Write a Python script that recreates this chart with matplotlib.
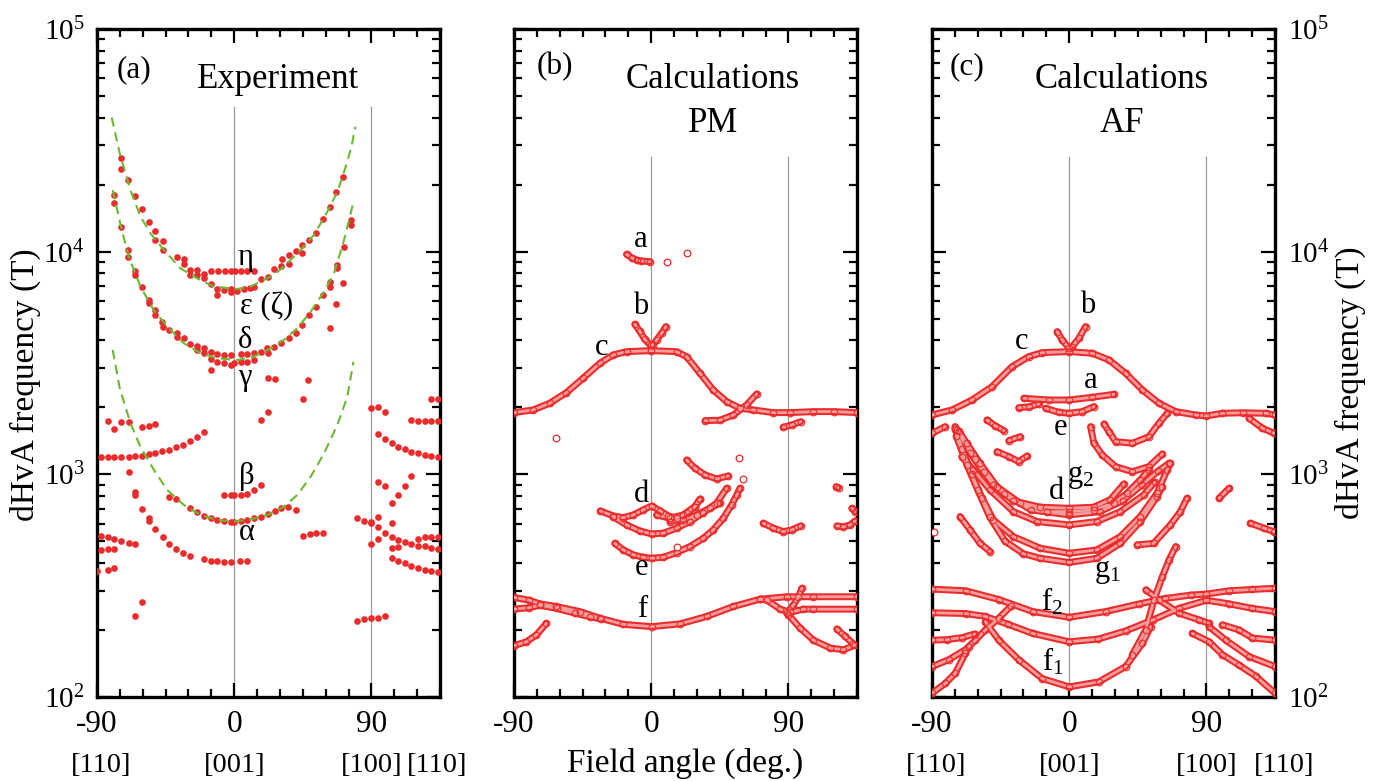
import matplotlib.pyplot as plt
from matplotlib.ticker import LogLocator, NullFormatter

plt.rcParams['font.family'] = ['Liberation Serif', 'DejaVu Serif']
plt.rcParams['mathtext.fontset'] = 'custom'
plt.rcParams['mathtext.rm'] = 'Liberation Serif'
plt.rcParams['mathtext.it'] = 'Liberation Serif:italic'

RED = '#ea2c2c'
PINK = '#f39c9c'
GREEN = '#6db732'
GREY = '#9a9a9a'

# ---- (a) experiment: (angle deg, dHvA frequency T) ----
exp_upper = [
    (-74.2, 26300), (-74.0, 23500), (-69.6, 21000), (-64.8, 17800), (-60.4, 15500),
    (-56.1, 13600), (-51.7, 12400), (-51.7, 11300), (-46.6, 11200), (-46.6, 10200),
    (-37.5, 9430), (-33.1, 9240), (-33.1, 8810), (-28.7, 8280), (-28.7, 7860),
    (-24.3, 8280), (-24.3, 7860), (-19.9, 7940), (-19.9, 7590), (-15.5, 7160),
    (-11.2, 6790), (-11.2, 6390),
    (-14.9, 8190), (-10.5, 8190), (-6.1, 8190), (-1.8, 8190), (0.4, 8190),
    (4.2, 8190), (8.5, 8190), (12.9, 8190),
    (-6.8, 6730), (-2.4, 6780), (-2.4, 6590), (2.0, 6680), (6.4, 6780),
    (10.3, 6890), (12.9, 6970),
    (17.3, 7520), (22.1, 7730), (26.1, 8340), (30.4, 8630), (31.5, 9240),
    (35.9, 9630), (35.9, 8810), (40.3, 10040), (44.7, 10680), (44.7, 9830),
    (49.1, 11290), (53.4, 12090), (58.5, 14030), (62.9, 15930), (67.0, 18610),
    (71.6, 21580),
]
exp_mid = [
    (-79.1, 18000), (-78.6, 16600), (-74.2, 12900), (-69.9, 10200), (-69.6, 9430),
    (-64.8, 8190), (-64.8, 7860), (-60.4, 6970), (-56.1, 6070), (-56.1, 5870),
    (-51.7, 5470), (-51.7, 5200), (-47.3, 4850), (-46.6, 4610), (-42.9, 4450),
    (-37.5, 4330), (-37.5, 4150), (-33.1, 4080), (-28.7, 3850), (-24.7, 3770),
    (-24.3, 3600), (-19.9, 3680), (-19.9, 3500), (-15.5, 3560), (-15.5, 3300),
    (-11.2, 3470), (-11.2, 3210), (-6.8, 3440), (-6.8, 3150), (-2.4, 3440),
    (-2.4, 3100), (-0.2, 3150), (4.2, 3180), (4.2, 3470), (8.5, 3210),
    (8.5, 3470), (12.9, 3500), (12.9, 3260), (17.3, 3560), (21.7, 3680),
    (22.1, 3500), (26.1, 3750), (30.4, 3880), (35.9, 4080), (40.3, 4330),
    (44.7, 4690), (49.1, 5200), (53.4, 5670), (58.5, 6390), (62.9, 7340),
    (62.9, 6970), (67.2, 8720), (67.2, 8420), (72.1, 10530), (76.4, 13900),
    (76.4, 13180),
    (-15.5, 2940), (71.6, 7260), (67.0, 5830), (62.6, 4530), (48.4, 2640),
    (22.1, 2700), (26.5, 2670),
]
exp_low = [
    (45.1, 2180), (17.3, 1760), (22.1, 1900),
    (-83.0, 1730), (-78.6, 1590), (-74.2, 1710), (-69.2, 1710), (-60.4, 1630),
    (-56.1, 1640), (-51.7, 1680),
    (-87.4, 1200), (-83.0, 1200), (-78.6, 1200), (-74.2, 1200), (-69.2, 1200),
    (-64.8, 1210), (-60.4, 1210), (-56.1, 1230), (-51.7, 1250), (-47.3, 1270),
    (-42.9, 1290), (-37.9, 1320), (-33.5, 1350), (-28.7, 1410), (-24.7, 1470),
    (-19.9, 1545),
    (-69.2, 1020), (-64.8, 837), (-64.8, 808), (-60.4, 697), (-56.1, 635),
    (-56.1, 620), (-51.7, 567), (-46.9, 525), (-42.5, 487), (-37.9, 461),
    (-33.5, 445), (-28.7, 430), (-19.9, 416), (-15.5, 410), (-11.2, 407),
    (-6.8, 406), (-2.4, 406), (3.7, 407), (8.5, 410),
    (-42.9, 789), (-37.9, 775), (-28.7, 709), (-24.7, 676), (-19.9, 651),
    (-15.5, 639), (-11.2, 624), (-6.8, 618), (-2.4, 614), (-0.2, 614),
    (4.2, 618), (8.5, 624), (12.9, 635), (17.3, 646), (22.1, 662),
    (26.5, 685), (30.9, 709), (35.5, 716), (40.3, 692),
    (-6.8, 808), (-2.4, 808), (-0.2, 808), (4.2, 808), (8.5, 817),
    (12.9, 851), (17.7, 896),
    (-87.4, 529), (-83.0, 525), (-78.6, 513), (-74.2, 502), (-69.2, 490),
    (-64.8, 485), (-87.4, 458), (-83.0, 461), (-78.6, 462), (-83.0, 372),
    (-78.6, 381), (-90.0, 368), (-64.8, 230), (-60.4, 268),
    (45.1, 529), (49.5, 538), (53.9, 544), (58.3, 544),
]
exp_side = [
    (80.4, 635), (85.2, 620), (90.0, 614), (90.0, 603), (94.4, 646), (94.4, 583),
    (98.8, 547), (103.2, 525), (107.5, 508), (111.9, 495), (116.3, 487),
    (120.7, 479), (125.1, 479), (129.0, 466), (133.4, 461), (90.0, 485),
    (94.4, 511), (103.2, 466), (107.5, 474), (103.2, 423), (107.5, 410),
    (111.9, 399), (116.3, 389), (120.7, 379), (125.1, 372), (129.0, 368),
    (133.4, 366), (120.7, 511), (125.1, 522), (129.0, 525), (133.4, 525),
    (90.0, 1980), (94.4, 2015), (98.8, 1900), (94.4, 1513), (98.8, 1437),
    (103.2, 1379), (107.5, 1332), (111.9, 1296), (116.3, 1265), (120.7, 1244),
    (125.1, 1223), (129.0, 1209), (133.4, 1201),
    (94.4, 928), (98.8, 887), (103.2, 742), (107.5, 808), (111.9, 887),
    (116.3, 987), (103.2, 603),
    (116.3, 1755), (120.7, 1743), (125.1, 1743), (129.0, 1737), (133.4, 1737),
    (129.0, 2180), (133.4, 2180),
    (80.4, 220), (85.2, 224), (90.0, 226), (94.4, 227), (98.8, 230),
]

# dashed guide curves in (a)
fit_eps = [(-80.4, 40100), (-75.1, 27700), (-68.1, 18900), (-61.5, 14400), (-55.0, 12100),
           (-46.2, 10200), (-35.3, 8420), (-24.3, 7590), (-13.4, 6970), (2.0, 6800),
           (10.7, 6970), (26.1, 7860), (34.8, 8870), (43.6, 10200), (52.4, 11900),
           (61.1, 15100), (67.7, 18600), (73.2, 24100), (76.9, 29600), (79.5, 36400)]
fit_delta = [(-79.7, 18900), (-74.2, 12900), (-69.2, 9500), (-61.5, 6970), (-52.8, 5470),
             (-44.0, 4610), (-33.1, 3880), (-22.1, 3500), (-11.2, 3320), (2.0, 3260),
             (12.9, 3380), (23.9, 3680), (32.6, 4010), (41.4, 4530), (50.2, 5380),
             (58.9, 6610), (65.5, 8000), (72.1, 11300), (78.6, 17100)]
fit_alpha = [(-79.7, 3620), (-75.1, 2440), (-68.1, 1700), (-61.5, 1330), (-52.8, 1050),
             (-44.0, 851), (-33.1, 729), (-22.1, 657), (-11.2, 624), (-0.2, 614),
             (10.7, 628), (21.7, 657), (32.6, 716), (41.4, 808), (50.2, 977),
             (58.9, 1240), (67.7, 1670), (74.2, 2230), (78.2, 3200)]

# ---- (b) paramagnetic calculation branches ----
pm_a = [(-16.2, 9730), (-12.9, 9400), (-9.6, 9170), (-6.4, 9080), (-0.9, 9020)]
pm_b_left = [(-10.7, 4720), (-7.4, 4380), (-4.2, 4040), (-0.4, 3790)]
pm_b_right = [(9.6, 4610), (6.8, 4300), (3.5, 4010), (0.9, 3810)]
pm_c = [(-90, 1893), (-77.5, 1946), (-66.6, 2085), (-55.6, 2328), (-44.7, 2701),
        (-33.7, 3153), (-25.0, 3437), (-16.2, 3557), (0, 3594), (16.6, 3557),
        (23.2, 3378), (32.0, 2843), (40.7, 2393), (49.5, 2121), (58.3, 1980),
        (67.0, 1946), (80.2, 1893), (91.1, 1893), (106.4, 1913), (119.6, 1913),
        (135, 1893)]
pm_c2 = [(35.3, 1743), (45.1, 1750), (53.9, 1848), (62.6, 2049), (69.2, 2296)]
pm_c3 = [(86.7, 1627), (92.2, 1667), (98.1, 1725)]
pm_arc = [(23.2, 1160), (28.7, 1065), (35.3, 994), (42.9, 954), (50.6, 984)]
pm_d_upper = [(-33.3, 685), (-25.0, 651), (-18.4, 639), (-11.8, 657), (-5.3, 692),
              (0.2, 721), (5.7, 687), (11.2, 651), (16.6, 635), (23.2, 669),
              (28.7, 717), (32.0, 773)]
pm_d_mid = [(-25.0, 645), (-16.2, 593), (-7.4, 557), (0.2, 540), (7.9, 544),
            (16.6, 573), (25.4, 614), (34.2, 673), (42.9, 742), (49.5, 866)]
pm_d_b1 = [(3.5, 657), (12.3, 635), (21.0, 657), (28.7, 717), (32.0, 773)]
pm_d_b2 = [(12.3, 614), (21.0, 624), (29.8, 657), (38.5, 704), (45.1, 742)]
pm_e = [(-23.9, 490), (-18.4, 458), (-11.8, 435), (-5.3, 424), (0.2, 420),
        (7.9, 424), (16.6, 445), (25.4, 474), (34.2, 516), (40.7, 563),
        (47.3, 635), (52.8, 729), (56.1, 808), (58.3, 866)]
pm_arc90 = [(73.6, 603), (80.2, 573), (86.7, 553), (92.2, 563), (98.1, 587)]
pm_right1 = [(121.3, 881), (122.9, 870)]
pm_right2 = [(121.8, 587), (126.1, 581), (130.5, 593), (133.8, 618)]
pm_right3 = [(131.6, 704), (133.8, 680)]
pm_f_main = [(-90, 280), (-80, 272), (-73, 262), (-62.2, 255), (-46.9, 242),
             (-33.7, 226), (-18.4, 212), (0.2, 207), (18.8, 213), (36.4, 230),
             (53.9, 255), (71.4, 275), (88.9, 282), (106.4, 282), (135, 282)]
pm_f_left = [(-90, 248), (-80, 252), (-73, 258), (-62, 250), (-50, 238),
             (-40, 229), (-33, 224)]
pm_f_right = [(71.4, 275), (75.8, 273), (84.5, 248), (91.1, 240), (99.9, 248),
              (106.4, 248), (135, 248)]
pm_f_low90 = [(90.0, 234), (97.7, 204), (106.4, 180), (117.4, 166), (126.1, 163),
              (133.8, 171)]
pm_f_rise90 = [(88.9, 238), (93.3, 259), (96.6, 282), (98.8, 308)]
pm_f_short = [(121.8, 202), (127.2, 187), (132.7, 173)]
pm_f_leftlow = [(-90, 170), (-81.9, 177), (-75.3, 190), (-68.8, 214)]
pm_single = [(10.5, 9020), (23.2, 9900), (-62.6, 1452), (57.8, 1181), (60.0, 950),
             (16.6, 471)]

# ---- (c) antiferromagnetic calculation branches ----
af_c = [(-90, 1848), (-76.9, 1946), (-63.7, 2158), (-50.6, 2477), (-37.5, 3045),
        (-26.5, 3379), (-17.7, 3521), (0, 3558), (15.1, 3497), (26.1, 3264),
        (37.0, 2843), (48.0, 2393), (58.9, 2085), (69.9, 1913), (83.0, 1848),
        (90.0, 1829), (100.5, 1880), (113.7, 1890), (129.0, 1880), (135, 1848)]
af_b_left = [(-7.9, 4375), (-4.6, 4014), (0, 3683)]
af_b_right = [(10.7, 4608), (6.4, 4083), (2.0, 3746)]
af_a = [(-29.8, 2195), (-13.4, 2158), (0, 2158), (15.1, 2218), (29.3, 2288)]
af_a2 = [(-33.1, 1993), (-26.5, 2010), (-19.9, 2070)]
af_e = [(-15.5, 1980), (-6.8, 1900), (0, 1880), (8.5, 1913), (16.2, 2015)]
af_edge_l = [(-90, 1529), (-81.3, 1638)]
af_edge_r = [(118.0, 1785), (126.8, 1610), (134.5, 1529)]
af_s1 = [(-53.9, 1755), (-48.4, 1650), (-42.9, 1572)]
af_s2 = [(-39.6, 1418), (-32.0, 1477)]
af_s3 = [(-47.3, 1265), (-39.6, 1201), (-33.1, 1141), (-27.6, 1209)]
af_arc1 = [(22.8, 1684), (26.1, 1556), (30.4, 1403), (41.4, 1379), (52.3, 1477),
           (58.9, 1696), (64.4, 1880)]
af_arc2 = [(14.0, 1638), (16.2, 1379), (21.7, 1222), (30.4, 1083), (41.4, 1028),
           (52.3, 1083), (61.1, 1235)]
af_d1 = [(-72, 1560), (-62, 1170), (-50, 900), (-36.6, 760), (-19, 712), (0, 704),
         (16, 712), (27, 770), (35.9, 906)]
af_d2 = [(-74.9, 1638), (-67.2, 1379), (-58.5, 1121), (-47.5, 881), (-32.2, 742),
         (-14.7, 680), (0, 680), (16, 692), (29.1, 742), (37.9, 822), (46.6, 944),
         (52.3, 1047)]
af_d3 = [(-73.8, 1583), (-65, 1251), (-56, 1020), (-43, 820), (-25, 692), (0, 657),
         (20, 680), (35, 760), (48, 900), (58, 1030), (65.5, 1121)]
af_d4 = [(-70.5, 1201), (-62.9, 1047), (-51.9, 851), (-36.6, 680), (-21.2, 614),
         (0, 593), (18.2, 614), (33.5, 680), (48.8, 808), (56, 920)]
af_g1a = [(-75, 1600), (-70, 1300), (-64, 1000), (-57, 780), (-49.7, 624),
          (-36.6, 525), (-19.1, 466), (0, 442), (18.2, 458), (33.5, 525),
          (46.6, 646), (57.6, 822), (64.2, 1047), (66.4, 1121)]
af_g1b = [(-74, 1480), (-67, 1100), (-60, 850), (-52, 640), (-42, 500), (-30, 440),
          (-19.1, 420), (0, 402), (18.2, 420), (33.5, 490), (46.6, 614),
          (57.6, 794), (61, 880)]
af_s4 = [(-71.6, 646), (-65, 563), (-58.5, 490), (-51.9, 450)]
af_s5 = [(44.5, 482), (55.4, 490), (66.4, 593), (72.9, 680), (77.3, 781)]
af_99 = [(98.3, 781), (104.9, 866)]
af_r_mid = [(118.9, 603), (127.7, 573), (134.3, 553)]
af_f2 = [(-90, 305), (-68, 300), (-46, 274), (-24, 242), (0, 228), (24, 242),
         (46, 262), (63, 277), (80, 287), (90, 290), (105, 300), (120, 304),
         (135, 308)]
af_f1 = [(-90, 239), (-68, 237), (-55, 230), (-40, 212), (-24, 193), (0, 177),
         (19, 182), (37, 198), (55, 222), (72, 250), (90, 272), (105, 262),
         (120, 250), (135, 242)]
af_l3 = [(-90, 180), (-80, 181), (-70, 185), (-62, 192)]
af_l4 = [(-90, 137), (-79.1, 147), (-68.1, 163), (-61.5, 180), (-55.0, 200),
         (-46.2, 226), (-38.5, 255)]
af_l5 = [(-90, 104), (-81.3, 115), (-74.7, 128), (-68.1, 157), (-65.9, 168)]
af_u = [(-55.0, 218), (-46.2, 180), (-33.1, 147), (-17.7, 121), (0, 111),
        (19.5, 117), (37.0, 137), (48.0, 174), (53.4, 207)]
af_steep = [(41.4, 155), (50.2, 200), (55.6, 273), (61.1, 347), (65.5, 413),
            (69.9, 474)]
af_cross = [(50.2, 303), (58.9, 273), (72.1, 238), (85.2, 222), (91.8, 214)]
af_r1 = [(80.8, 193), (91.8, 177), (100.5, 155), (111.5, 139), (122.4, 124),
         (135, 104)]
af_r2 = [(91.8, 207), (102.7, 180), (118.0, 152), (135, 137)]
af_r3 = [(100.5, 211), (111.5, 200), (120.2, 184), (135, 180)]
af_single = [(-88.5, 553)]

pm_curves = [pm_a, pm_b_left, pm_b_right, pm_c, pm_c2, pm_c3, pm_arc, pm_d_upper,
             pm_d_mid, pm_d_b1, pm_d_b2, pm_e, pm_arc90, pm_right1, pm_right2,
             pm_right3, pm_f_main, pm_f_left, pm_f_right, pm_f_low90, pm_f_rise90,
             pm_f_short, pm_f_leftlow]
af_curves = [af_c, af_b_left, af_b_right, af_a, af_a2, af_e, af_edge_l, af_edge_r,
             af_s1, af_s2, af_s3, af_arc1, af_arc2, af_d1, af_d2, af_d3, af_d4,
             af_g1a, af_g1b, af_s4, af_s5, af_99, af_r_mid, af_f2, af_f1, af_l3,
             af_l4, af_l5, af_u, af_steep, af_cross, af_r1, af_r2, af_r3]

W, H = 1382, 781
fig = plt.figure(figsize=(W / 100, H / 100), dpi=100)


def make_axes(left_px):
    ax = fig.add_axes([left_px / W, (H - 697) / H, 343 / W, 668 / H])
    ax.set_xlim(-90, 135)
    ax.set_yscale('log')
    ax.set_ylim(100, 1e5)
    ax.set_xticks([-90, 0, 90])
    ax.set_xticklabels(['-90', '0', '90'])
    ax.set_xticks([-75, -60, -45, -30, -15, 15, 30, 45, 60, 75, 105, 120, 135], minor=True)
    ax.set_yticks([1e2, 1e3, 1e4, 1e5])
    ax.set_yticklabels([r'$10^{2}$', r'$10^{3}$', r'$10^{4}$', r'$10^{5}$'])
    ax.yaxis.set_minor_locator(LogLocator(base=10, subs=range(2, 10)))
    ax.yaxis.set_minor_formatter(NullFormatter())
    ax.tick_params(which='both', direction='in', top=True, right=True, width=1.6)
    ax.tick_params(which='major', length=10)
    ax.tick_params(which='minor', length=6)
    ax.tick_params(axis='x', labelsize=22.5, pad=9)
    ax.tick_params(axis='y', labelsize=21, pad=9, labelleft=False, labelright=False)
    for sp in ax.spines.values():
        sp.set_linewidth(2.4)
    return ax


def direction_labels(ax, xs):
    for x, s in zip(xs, ['[110]', '[001]', '[100]', '[110]']):
        ax.text(x, -0.102, s, transform=ax.get_xaxis_transform(),
                ha='center', va='center', fontsize=20.5)


def draw_calc(ax, curves, singles):
    # each branch: red band with a light core, open circles at the computed angles
    for pts in curves:
        xs, ys = zip(*pts)
        ax.plot(xs, ys, color=RED, lw=5.0, solid_capstyle='round',
                solid_joinstyle='round', zorder=3)
    for pts in curves:
        xs, ys = zip(*pts)
        ax.plot(xs, ys, color=PINK, lw=2.0, solid_capstyle='round',
                solid_joinstyle='round', zorder=4)
        ax.plot(xs, ys, 'o', ms=4.8, mfc='none', mec=RED, mew=0.8, ls='none', zorder=5)
    xs, ys = zip(*singles)
    ax.plot(xs, ys, 'o', ms=4.8, mfc='white', mec=RED, mew=0.9, ls='none', zorder=5)


# (a) experiment
ax1 = make_axes(97)
ax1.tick_params(axis='y', labelleft=True)
for x in (0, 90):
    ax1.axvline(x, ymax=0.883, color=GREY, lw=0.9, zorder=1)
for pts in (exp_upper, exp_mid, exp_low, exp_side):
    xs, ys = zip(*pts)
    ax1.plot(xs, ys, 'o', color=RED, ms=4.8, mew=0, ls='none', zorder=4)
for pts in (fit_eps, fit_delta, fit_alpha):
    xs, ys = zip(*pts)
    ax1.plot(xs, ys, color=GREEN, lw=1.5, dashes=(4.5, 2.8), zorder=5)
ax1.text(0.108, 0.939, '(a)', transform=ax1.transAxes, ha='center', va='center', fontsize=22.5)
ax1.text(0.528, 0.924, 'Experiment', transform=ax1.transAxes, ha='center', va='center', fontsize=25)
for x, y, s in [(7.2, 9460, 'η'), (21.0, 5650, 'ε (ζ)'), (7.2, 4010, 'δ'),
                (7.2, 2710, 'γ'), (8.5, 974, 'β'), (8.5, 546, 'α')]:
    ax1.text(x, y, s, ha='center', va='center', fontsize=22, zorder=6)
direction_labels(ax1, [-87, 0, 90, 133])
fig.text(25 / W, 1 - 385 / H, 'dHvA frequency (T)', rotation=90,
         ha='center', va='center', fontsize=24)

# (b) PM calculation
ax2 = make_axes(514)
for x in (0, 90):
    ax2.axvline(x, ymax=0.808, color=GREY, lw=0.9, zorder=1)
draw_calc(ax2, pm_curves, pm_single)
ax2.text(0.120, 0.943, '(b)', transform=ax2.transAxes, ha='center', va='center', fontsize=22.5)
ax2.text(0.580, 0.924, 'Calculations', transform=ax2.transAxes, ha='center', va='center', fontsize=25)
ax2.text(0.580, 0.859, 'PM', transform=ax2.transAxes, ha='center', va='center', fontsize=25)
for x, y, s in [(-6.6, 11290, 'a'), (-6.6, 5650, 'b'), (-32.2, 3730, 'c'),
                (-6.6, 808, 'd'), (-6.6, 380, 'e'), (-5.9, 246, 'f')]:
    ax2.text(x, y, s, ha='center', va='center', fontsize=22, zorder=6)
ax2.text(0.5, -0.099, 'Field angle (deg.)', transform=ax2.transAxes,
         ha='center', va='center', fontsize=24)

# (c) AF calculation
ax3 = make_axes(932)
ax3.tick_params(axis='y', labelright=True)
for x in (0, 90):
    ax3.axvline(x, ymax=0.808, color=GREY, lw=0.9, zorder=1)
draw_calc(ax3, af_curves, af_single)
ax3.text(0.102, 0.943, '(c)', transform=ax3.transAxes, ha='center', va='center', fontsize=22.5)
ax3.text(0.554, 0.924, 'Calculations', transform=ax3.transAxes, ha='center', va='center', fontsize=25)
ax3.text(0.554, 0.859, 'AF', transform=ax3.transAxes, ha='center', va='center', fontsize=25)
for x, y, s in [(11.8, 5760, 'b'), (-30.9, 3930, 'c'), (13.8, 2650, 'a'),
                (-5.9, 1630, 'e'), (7.2, 974, r'$\mathrm{g}_2$'), (-8.5, 834, 'd'),
                (25.0, 365, r'$\mathrm{g}_1$'), (-11.2, 267, r'$\mathrm{f}_2$'),
                (-10.5, 144, r'$\mathrm{f}_1$')]:
    ax3.text(x, y, s, ha='center', va='center', fontsize=22, zorder=6)
direction_labels(ax3, [-87, 0, 90, 141])
fig.text(1350 / W, 1 - 383 / H, 'dHvA frequency (T)', rotation=90,
         ha='center', va='center', fontsize=24)

fig.savefig('out.png', dpi=100)
